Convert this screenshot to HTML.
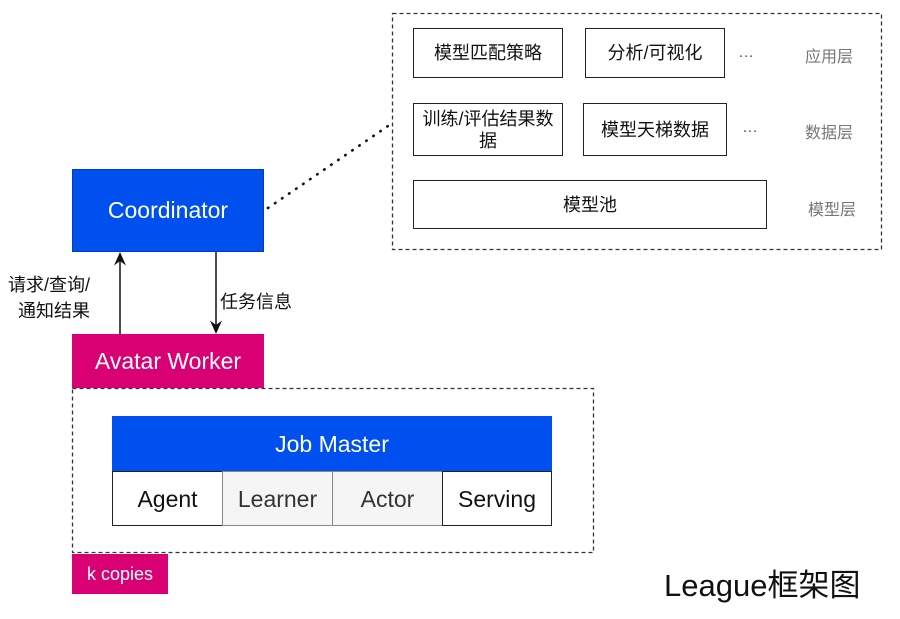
<!DOCTYPE html>
<html><head><meta charset="utf-8"><style>
body{margin:0;width:900px;height:619px;background:#fff;position:relative;overflow:hidden;font-family:"Liberation Sans","Noto Sans CJK SC",sans-serif;}
.b{position:absolute;box-sizing:border-box;display:flex;align-items:center;justify-content:center;text-align:center;}
.w{border:1.5px solid #222;background:#fff;color:#111;font-size:18px;line-height:22px;}
.g{color:#777;font-size:16px;position:absolute;}
</style></head><body>
<svg width="900" height="619" style="position:absolute;left:0;top:0">
<defs><marker id="a" markerWidth="10" markerHeight="10" refX="5" refY="5" orient="auto"><path d="M0,1 L9,5 L0,9 L3,5 z" fill="#111"/></marker></defs>
<rect x="392.5" y="13.5" width="489" height="236" fill="none" stroke="#333" stroke-width="1.3" stroke-dasharray="4,3"/>
<rect x="72.5" y="388.5" width="521" height="164" fill="none" stroke="#333" stroke-width="1.3" stroke-dasharray="4,3"/>
<line x1="268" y1="208" x2="388" y2="126" stroke="#111" stroke-width="2.6" stroke-dasharray="0.5,8" stroke-linecap="round"/>
<line x1="120" y1="334" x2="120" y2="258" stroke="#111" stroke-width="1.5" marker-end="url(#a)"/>
<line x1="216" y1="252" x2="216" y2="328" stroke="#111" stroke-width="1.5" marker-end="url(#a)"/>
</svg>
<div class="b w" style="left:413px;top:28px;width:150px;height:50px">模型匹配策略</div>
<div class="b w" style="left:585px;top:28px;width:140px;height:50px">分析/可视化</div>
<div class="b w" style="left:413px;top:103px;width:150px;height:53px;padding:0 2px">训练/评估结果数据</div>
<div class="b w" style="left:583px;top:103px;width:144px;height:53px">模型天梯数据</div>
<div class="b w" style="left:413px;top:180px;width:354px;height:49px">模型池</div>
<div class="g" style="left:738px;top:44px;color:#555">…</div>
<div class="g" style="left:742px;top:119px;color:#555">…</div>
<div class="g" style="left:805px;top:43px">应用层</div>
<div class="g" style="left:805px;top:119px">数据层</div>
<div class="g" style="left:808px;top:196px">模型层</div>
<div class="b" style="left:72px;top:169px;width:192px;height:83px;background:#0050ef;color:#fff;font-size:23px;border:1px solid #0040c0">Coordinator</div>
<div class="b" style="left:72px;top:334px;width:192px;height:54px;background:#d80073;color:#fff;font-size:23px">Avatar Worker</div>
<div style="position:absolute;left:-6px;top:272px;font-size:18px;line-height:26px;color:#111;text-align:right;width:96px">请求/查询/<br>通知结果</div>
<div style="position:absolute;left:220px;top:288px;font-size:18px;color:#111">任务信息</div>
<div class="b" style="left:112px;top:416px;width:440px;height:56px;background:#0050ef;color:#fff;font-size:23px">Job Master</div>
<div class="b w" style="left:112px;top:471px;width:111px;height:55px;font-size:23px">Agent</div>
<div class="b w" style="left:222px;top:471px;width:111px;height:55px;font-size:23px;background:#f5f5f5;color:#333;border-color:#888">Learner</div>
<div class="b w" style="left:332px;top:471px;width:111px;height:55px;font-size:23px;background:#f5f5f5;color:#333;border-color:#888">Actor</div>
<div class="b w" style="left:442px;top:471px;width:110px;height:55px;font-size:23px">Serving</div>
<div class="b" style="left:72px;top:554px;width:96px;height:40px;background:#d80073;color:#fff;font-size:18px">k copies</div>
<div style="position:absolute;left:664px;top:560px;font-size:31px;color:#111">League框架图</div>
</body></html>
